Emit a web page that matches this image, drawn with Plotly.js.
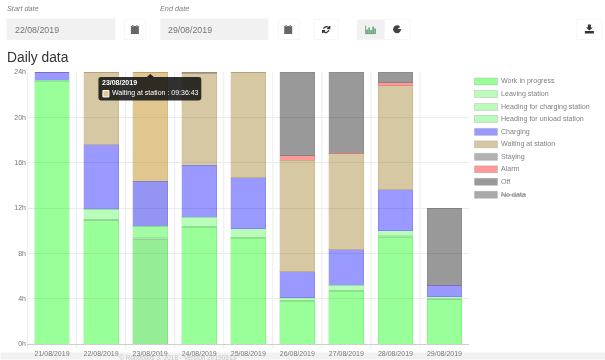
<!DOCTYPE html>
<html><head><meta charset="utf-8">
<script src="https://cdn.plot.ly/plotly-3.0.1.min.js"></script>
<style>html,body{margin:0;padding:0;background:#fff}#c{width:605px;height:360px;filter:blur(0.3px)}</style></head>
<body><div id="c"></div>
<script>
const categories=["21/08/2019","22/08/2019","23/08/2019","24/08/2019","25/08/2019","26/08/2019","27/08/2019","28/08/2019","29/08/2019"];
const workInProgress=[23.13,10.88,9.2,10.3,9.32,3.77,4.65,9.44,3.9];
const headingToStation=[0,0.12,0.17,0.1,0.12,0.1,0.1,0.12,0.1];
const leavingStation=[0.15,0.9,1.01,0.77,0.71,0.2,0.45,0.44,0.18];
const charging=[0.72,5.67,3.97,4.62,4.52,2.29,3.13,3.6,1.0];
const waitingAtStation=[0,6.43,9.65,8.11,9.33,9.84,8.47,9.2,0];
const alarm=[0,0,0,0,0,0.4,0.05,0.25,0];
const off=[0,0,0,0.1,0,7.4,7.15,0.95,6.78];
const legendLabels=["Work in progress","Leaving station","Heading for charging station","Heading for unload station","Charging","Waiting at station","Staying","Alarm","Off","<s>No data</s>"];
const legendColors=["#99ff99","#bbfbbb","#bbfbbb","#bbfbbb","#9999ff","#d6c8a2","#b2b2b2","#ff9999","#999999","#aaaaaa"];
const yTickVals=[0,4,8,12,16,20,24];
const yTickText=["0h","4h","8h","12h","16h","20h","24h"];

const FONT='"Liberation Sans", Arial, sans-serif';
const W=605,H=360,L=26.5,R=469,T=72,B=344.5;
const px=x=>(x-L)/(R-L), py=y=>(B-y)/(B-T);
const hoverIdx=2;
function tr(name,y,color,line,hover){
  const colors=categories.map((_,i)=>i===hoverIdx&&hover?hover:color);
  return {type:'bar',name,x:categories,y,marker:{color:colors,line:{color:line,width:1}},hoverinfo:'skip',showlegend:false};
}
const traces=[
  tr("Work in progress",workInProgress,"rgba(0,255,0,.4)","rgba(0,170,0,.14)","rgba(20,215,20,.45)"),
  tr("Heading for unload station",headingToStation,"rgba(0,150,0,.3)","rgba(0,170,0,.06)"),
  tr("Leaving station",leavingStation,"rgba(0,245,0,.27)","rgba(0,170,0,.08)","rgba(0,245,0,.36)"),
  tr("Charging",charging,"rgba(0,0,255,.4)","rgba(0,0,170,.1)","rgba(0,0,225,.42)"),
  tr("Waiting at station",waitingAtStation,"rgba(152,117,22,.4)","rgba(120,90,20,.1)","rgba(190,135,20,.47)"),
  tr("Alarm",alarm,"rgba(255,0,0,.4)","rgba(170,0,0,.08)"),
  tr("Off",off,"rgba(0,0,0,.4)","rgba(0,0,0,.08)")
];

const shapes=[],ann=[];
function rect(x0,y0,x1,y1,fill,line,layer){shapes.push({type:'rect',xref:'paper',yref:'paper',x0:px(x0),x1:px(x1),y0:py(y0),y1:py(y1),fillcolor:fill,line:{color:line||fill,width:line?1:0},layer:layer||'above'});}
function text(x,y,s,size,color,anchor,extra){ann.push(Object.assign({xref:'paper',yref:'paper',x:px(x),y:py(y),text:s,showarrow:false,xanchor:anchor||'left',yanchor:'middle',font:{size,color,family:FONT},borderpad:0,borderwidth:0,align:'left',captureevents:false},extra||{}));}
function icon(path,x,y,s,color,stroke){
  const p=path.replace(/(-?[\d.]+),(-?[\d.]+)/g,(m,a,b)=>(px(x+a*s)).toFixed(5)+','+(py(y+b*s)).toFixed(5));
  shapes.push({type:'path',xref:'paper',yref:'paper',path:p,fillcolor:stroke?'rgba(0,0,0,0)':color,line:{color:stroke?color:'rgba(0,0,0,0)',width:stroke||0},layer:'above'});
}
rect(0,353,605,360,"#f1f1f1",null,'below');
text(6.5,8.5,"<i>Start date</i>",7.3,"#808080");
text(160,8.5,"<i>End date</i>",7.3,"#808080");
rect(6,18.5,115,40,"#f1f1f1");
rect(160,18.5,268,40,"#f1f1f1");
text(14,29.5,"22/08/2019",8.8,"#757575");
text(168,29.5,"29/08/2019",8.8,"#757575");
function btn(x0,x1,fill){shapes.push({type:'rect',xref:'paper',yref:'paper',x0:px(x0),x1:px(x1),y0:py(19.5),y1:py(39.5),fillcolor:fill,line:{color:'#f6f6f6',width:1},layer:'above'});}
btn(124,145,'#fff');btn(278,299,'#fff');btn(314,338,'#fff');btn(357,384.5,'#f1f1f1');btn(384.5,410,'#fff');btn(577,602,'#fff');
const cal="M0,1 L8,1 L8,9 L0,9 Z M1.5,0 L2.5,0 L2.5,1.5 L1.5,1.5 Z M5.5,0 L6.5,0 L6.5,1.5 L5.5,1.5 Z";
icon(cal,130.5,25,1,"#666");icon(cal,284,25,1,"#666");
icon("M1,3 L4,0.8 L7,2 M7.5,0.5 L7.5,3 L5,3 M7,5 L4,7.2 L1,6 M0.5,7.5 L0.5,5 L3,5",322,25.5,1,"#333",1.3);
icon("M0,0 L0,8 L10,8",365.5,25.5,1,"#5a8f5a",0.8);
[[1.5,4],[3.5,2],[5.5,4.5],[7.5,1],[9.5,3]].forEach(([a,b])=>icon(`M${a-.7},8 L${a+.7},8 L${a+.7},${b} L${a-.7},${b} Z`,365.5,25.5,1,"#4f9a6a"));
icon("M4,0.2 C6.2,0.2 8,2 8,4.2 C8,6.4 6.2,8.2 4,8.2 C1.8,8.2 0,6.4 0,4.2 C0,2 1.8,0.2 4,0.2 Z",393,25,1,"#444");
icon("M4.5,4 L8.5,0.6 L8.8,4 Z",393,25,1,"#fff");
icon("M3,0 L6,0 L6,3 L8,3 L4.5,6 L1,3 L3,3 Z M0,6.5 L9,6.5 L9,9 L0,9 Z",585,24.5,1,"#333");

text(6,57,"Daily data",13.8,"#333");

const legendY=[81.5,94,107,119,132,144.5,157,169.5,182,195];
legendLabels.forEach((s,i)=>{
  const y=legendY[i];
  shapes.push({type:'rect',xref:'paper',yref:'paper',x0:px(474.5),x1:px(497.5),y0:py(y-3.5),y1:py(y+3.5),fillcolor:legendColors[i],line:{color:'rgba(150,150,150,.3)',width:1},layer:'above'});
  text(501,y,s,7.1,"#808080");
});

icon("M-3.5,3 L0,0 L3.5,3 Z",150,74,1,"rgba(20,20,20,.92)");
shapes.push({type:'path',xref:'paper',yref:'paper',layer:'above',fillcolor:'rgba(20,20,20,.88)',line:{width:0},
 path:`M${px(100.5)},${py(77)} L${px(198.5)},${py(77)} Q${px(201)},${py(77)} ${px(201)},${py(79.5)} L${px(201)},${py(98)} Q${px(201)},${py(100.5)} ${px(198.5)},${py(100.5)} L${px(100.5)},${py(100.5)} Q${px(98)},${py(100.5)} ${px(98)},${py(98)} L${px(98)},${py(79.5)} Q${px(98)},${py(77)} ${px(100.5)},${py(77)} Z`});
text(102,83,"<b>23/08/2019</b>",7,"#fff");
rect(102.5,90.5,108.5,97,"#e0c993","#fff");
text(112,93.5,"Waiting at station : 09:36:43",7,"#fff");

text(178,358.5,"© Robopolis 3, 2018 - Version 20190613",6.5,"#c8c8c8","center");

const layout={width:W,height:H,margin:{l:L,r:W-R,t:T,b:H-B,pad:0},barmode:'stack',bargap:0.29,
  paper_bgcolor:'#fff',plot_bgcolor:'rgba(0,0,0,0)',showlegend:false,hovermode:false,
  xaxis:{type:'category',categoryorder:'array',categoryarray:categories,tickfont:{size:7,color:'#777',family:FONT},ticks:'outside',ticklen:3,tickcolor:'rgba(0,0,0,0)',showgrid:false,showline:true,linecolor:'#cfcfcf',fixedrange:true,tickangle:0},
  yaxis:{range:[0,24],tickvals:yTickVals,ticktext:yTickText,tickfont:{size:7,color:'#777',family:FONT},gridcolor:'#ececec',gridwidth:1,zeroline:false,showline:false,ticks:'',ticklen:0,fixedrange:true},
  shapes,annotations:ann};
layout.shapes=layout.shapes.concat(categories.map((_,i)=>({type:'line',xref:'x',yref:'paper',x0:i-0.5,x1:i-0.5,y0:-0.018,y1:1,line:{color:'#ececec',width:1},layer:'below'})));
Plotly.newPlot('c',traces,layout,{displayModeBar:false,staticPlot:true});
</script></body></html>
